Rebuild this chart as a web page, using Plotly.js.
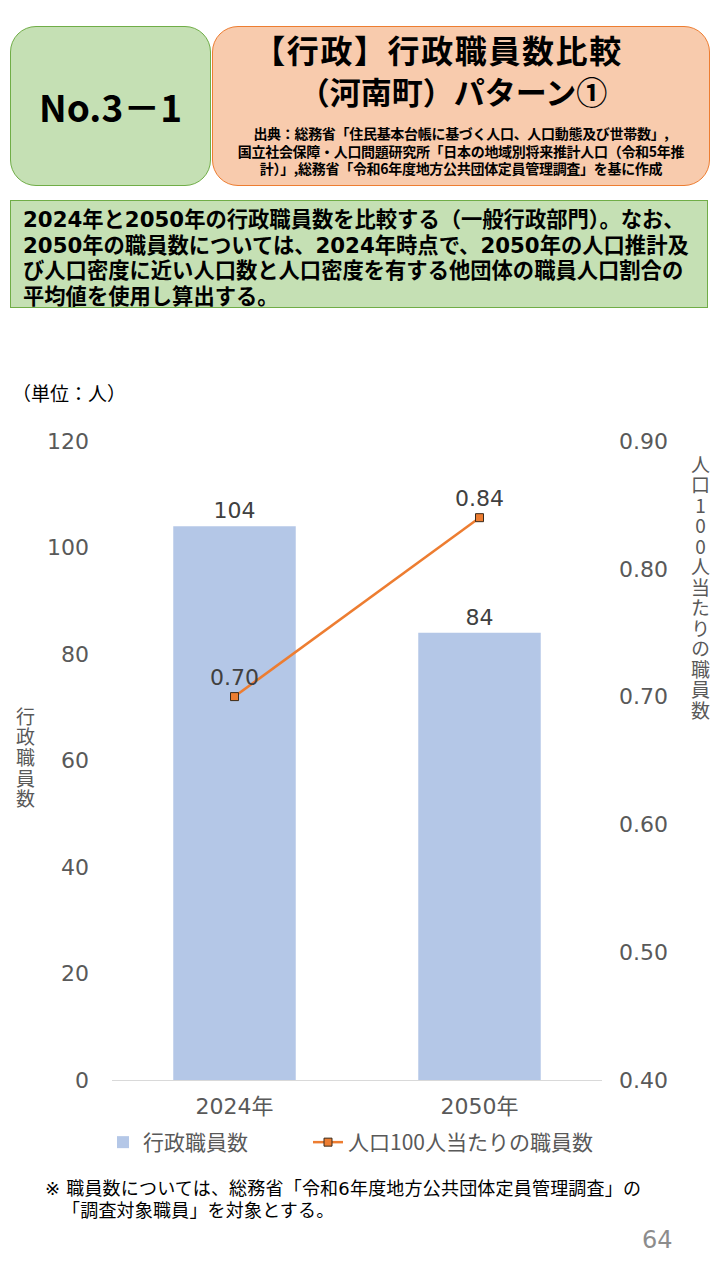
<!DOCTYPE html>
<html>
<head>
<meta charset="utf-8">
<script src="https://cdn.plot.ly/plotly-3.0.1.min.js"></script>
<style>
  html, body { margin:0; padding:0; background:#fff; }
  body { width:720px; height:1280px; position:relative; overflow:hidden;
         font-family:"DejaVu Sans","Noto Sans CJK JP",sans-serif; }
  #chart { position:absolute; left:0; top:0; width:720px; height:1280px; }
  .box { position:absolute; box-sizing:border-box; }
  #no { left:10px; top:26px; width:201px; height:160px; background:#c5e0b4;
        border:1px solid #70ad47; border-radius:26px;
        display:flex; align-items:center; justify-content:center;
        font-family:"Noto Sans CJK JP",sans-serif;
        font-size:37px; font-weight:700; color:#000; }
  #ttl { left:212px; top:26px; width:498px; height:160px; background:#f8cbad;
         border:1px solid #ed7d31; border-radius:26px; text-align:center; color:#000;
         font-family:"Noto Sans CJK JP",sans-serif; }
  #ttl .t1 { font-size:32px; font-weight:700; line-height:42px; margin-top:1px;
             letter-spacing:1.6px; position:relative; left:-23px; }
  #ttl .t2 { font-size:31px; font-weight:700; line-height:42px; position:relative; left:-8px; }
  #ttl .s { font-size:14px; font-weight:700; line-height:17.5px; margin-top:13px; letter-spacing:-0.3px; }
  #desc { left:10px; top:200px; width:698px; height:108px; background:#c5e0b4;
          border:1px solid #70ad47; padding:6px 0 0 12px;
          font-size:21.3px; font-weight:700; line-height:25.5px; color:#000; white-space:nowrap; }
  .note { left:45px; font-size:18px; line-height:22px; color:#000;
          font-family:"DejaVu Sans","Noto Sans CJK JP",sans-serif; white-space:nowrap; letter-spacing:0.2px; }
  #note1 { top:1178px; }
  #note2 { top:1200px; left:62px; }
  #page { left:642px; top:1226px; font-size:24px; color:#8c8c8c; }
  .vt { position:absolute; writing-mode:vertical-rl; text-orientation:upright;
        font-family:"Noto Sans CJK JP",sans-serif; color:#595959; white-space:nowrap; }
  #ytl { left:15px; top:707px; font-size:19px; letter-spacing:1.6px; line-height:20px; }
  #ytr { left:690px; top:455px; font-size:19px; letter-spacing:1.5px; line-height:20px; }
</style>
</head>
<body>
<div id="chart"></div>
<div class="box" id="no">No.3－1</div>
<div class="box" id="ttl">
  <div class="t1">【行政】行政職員数比較</div>
  <div class="t2">（河南町）パターン①</div>
  <div class="s">出典：総務省「住民基本台帳に基づく人口、人口動態及び世帯数」,<br>国立社会保障・人口問題研究所「日本の地域別将来推計人口（令和5年推<br>計）」,総務省「令和6年度地方公共団体定員管理調査」を基に作成</div>
</div>
<div class="box" id="desc">2024年と2050年の行政職員数を比較する（一般行政部門）。なお、<br>2050年の職員数については、2024年時点で、2050年の人口推計及<br>び人口密度に近い人口数と人口密度を有する他団体の職員人口割合の<br>平均値を使用し算出する。</div>
<div class="box note" id="note1">※ 職員数については、総務省「令和6年度地方公共団体定員管理調査」の</div>
<div class="box note" id="note2">「調査対象職員」を対象とする。</div>
<div class="box" id="page">64</div>
<div class="vt" id="ytl"></div>
<div class="vt" id="ytr"></div>
<script>
// Data
const categories = ["2024年", "2050年"];
const staffCounts = [104, 84];
const staffPer100 = [0.70, 0.84];
const seriesNames = ["行政職員数", "人口100人当たりの職員数"];
const leftTicks = [0, 20, 40, 60, 80, 100, 120];
const rightTicks = [0.40, 0.50, 0.60, 0.70, 0.80, 0.90];
const leftTitle = "行政職員数";
const rightTitle = "人口100人当たりの職員数";
const unitLabel = "（単位：人）";

document.getElementById('ytl').textContent = leftTitle;
document.getElementById('ytr').textContent = rightTitle;

const FONT = '"DejaVu Sans","Noto Sans CJK JP",sans-serif';
const CJK = '"Noto Sans CJK JP",sans-serif';
const GREY = '#595959';

// plot area in pixels
const L = 112, R = 602, T = 441, B = 1080;
const px = x => (x - L) / (R - L);
const py = y => (B - y) / (B - T);

const traces = [
  {
    type: 'bar', name: seriesNames[0], x: categories, y: staffCounts,
    marker: { color: '#b4c7e7' }, legend: 'legend',
    text: staffCounts.map(String), textposition: 'outside', cliponaxis: false,
    textfont: { family: FONT, size: 22, color: '#404040' },
    hoverinfo: 'skip'
  },
  {
    type: 'scatter', mode: 'lines+markers+text', name: seriesNames[1],
    x: categories, y: staffPer100, yaxis: 'y2', legend: 'legend2',
    line: { color: '#ed7d31', width: 2.5 },
    marker: { symbol: 'square', size: 8, color: '#ed7d31', line: { color: '#3a2a1a', width: 1 } },
    text: staffPer100.map(v => v.toFixed(2)), textposition: 'top center', cliponaxis: false,
    textfont: { family: FONT, size: 22, color: '#404040' },
    hoverinfo: 'skip'
  }
];

const legendCommon = {
  orientation: 'h', xanchor: 'left', yanchor: 'top', y: py(1122),
  font: { family: CJK, size: 21, color: GREY }, itemwidth: 30,
  bgcolor: 'rgba(0,0,0,0)'
};

const layout = {
  width: 720, height: 1280,
  margin: { l: L, r: 720 - R, t: T, b: 1280 - B, pad: 0 },
  paper_bgcolor: 'rgba(0,0,0,0)', plot_bgcolor: 'rgba(0,0,0,0)',
  font: { family: FONT, color: GREY },
  bargap: 0.5,
  showlegend: true,
  legend: Object.assign({}, legendCommon, { x: px(103) }),
  legend2: Object.assign({}, legendCommon, { x: px(308) }),
  xaxis: {
    type: 'category', showgrid: false, zeroline: false, showline: true,
    linecolor: '#d9d9d9', linewidth: 1, ticks: '',
    tickfont: { family: FONT, size: 22, color: GREY }, ticklabelstandoff: 7
  },
  yaxis: {
    range: [0, 120], tickvals: leftTicks, ticktext: leftTicks.map(String),
    showgrid: false, zeroline: false, showline: false, ticks: '',
    tickfont: { family: FONT, size: 22, color: GREY }, ticklabelstandoff: 22
  },
  yaxis2: {
    range: [0.4, 0.9], overlaying: 'y', side: 'right',
    tickvals: rightTicks, ticktext: rightTicks.map(v => v.toFixed(2)),
    showgrid: false, zeroline: false, showline: false, ticks: '',
    tickfont: { family: FONT, size: 22, color: GREY }, ticklabelstandoff: 16
  },
  annotations: [
    { xref: 'paper', yref: 'paper', x: px(10), y: py(392), xanchor: 'left', yanchor: 'middle',
      text: unitLabel, showarrow: false, font: { family: CJK, size: 19, color: '#000' } }
  ]
};

Plotly.newPlot('chart', traces, layout, { staticPlot: true, displayModeBar: false });
</script>
</body>
</html>
